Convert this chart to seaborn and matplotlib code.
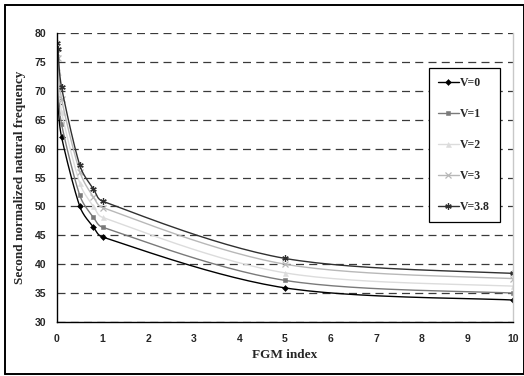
import numpy as np
import pandas as pd
import seaborn as sns
import matplotlib
matplotlib.use("Agg")
import matplotlib.pyplot as plt
from matplotlib.lines import Line2D

# FGM index values and second normalized natural frequency for each V
fgm_index = [0, 0.02, 0.1, 0.5, 0.8, 1, 5, 10]
freq_v0 = [68.6, 67.8, 62.0, 50.0, 46.4, 44.7, 35.9, 33.8]
freq_v1 = [71.3, 70.5, 64.2, 51.9, 48.1, 46.4, 37.2, 35.0]
freq_v2 = [74.2, 73.2, 66.4, 54.0, 50.0, 48.1, 38.5, 36.2]
freq_v3 = [76.5, 75.6, 68.6, 56.0, 51.6, 49.8, 40.0, 37.5]
freq_v38 = [78.3, 77.2, 70.6, 57.1, 53.0, 50.9, 41.0, 38.4]
series_labels = ["V=0", "V=1", "V=2", "V=3", "V=3.8"]
x_ticks = list(range(0, 11))
y_ticks = list(range(30, 81, 5))

series_values = [freq_v0, freq_v1, freq_v2, freq_v3, freq_v38]
series_colors = ["#000000", "#7a7a7a", "#dcdcdc", "#b8b8b8", "#303030"]
series_markers = ["D", "s", "^", "x", (6, 2, 0)]
marker_sizes = [3.0, 3.2, 3.6, 4.0, 4.6]
marker_edges = [0.4, 0.4, 0.4, 0.9, 0.9]

sns.set_style("white")
plt.rcParams["font.family"] = ["Liberation Sans", "DejaVu Sans"]
plt.rcParams["font.weight"] = "bold"

W, H = 524, 376
fig = plt.figure(figsize=(W / 100, H / 100), dpi=100)
ax = fig.add_axes([57 / W, 1 - 322 / H, (513 - 57) / W, (322 - 33) / H])


def smooth_curve(xs, ys, sx=45.6, sy=5.78, n=30):
    """Bezier smoothing (Catmull-Rom tangents, clamped per segment)."""
    px = np.asarray(xs, float) * sx
    py = np.asarray(ys, float) * sy
    pts = np.column_stack([px, py])
    ext = np.vstack([pts[0], pts, pts[-1]])
    tang = [(ext[i + 2] - ext[i]) / 6.0 for i in range(len(pts))]
    out = []
    for i in range(len(pts) - 1):
        p1, p2 = pts[i], pts[i + 1]
        seg_len = np.hypot(*(p2 - p1))
        lim = seg_len / 2.5
        t1, t2 = tang[i], tang[i + 1]
        n1, n2 = np.hypot(*t1), np.hypot(*t2)
        if n1 > lim:
            t1 = t1 * lim / n1
        if n2 > lim:
            t2 = t2 * lim / n2
        c1 = p1 + t1
        c2 = p2 - t2
        t = np.linspace(0, 1, n)[:, None]
        seg = ((1 - t) ** 3) * p1 + 3 * ((1 - t) ** 2) * t * c1 \
            + 3 * (1 - t) * t ** 2 * c2 + t ** 3 * p2
        out.append(seg if i == 0 else seg[1:])
    out = np.vstack(out)
    return out[:, 0] / sx, out[:, 1] / sy


handles = []
for label, vals, col, mk, ms, mew in zip(series_labels, series_values,
                                         series_colors, series_markers,
                                         marker_sizes, marker_edges):
    cx, cy = smooth_curve(fgm_index, vals)
    sns.lineplot(x=cx, y=cy, sort=False, estimator=None, color=col,
                 lw=1.0, ax=ax, legend=False)
    df = pd.DataFrame({"fgm": fgm_index, "freq": vals})
    sns.lineplot(data=df, x="fgm", y="freq", color=col, marker=mk,
                 markersize=ms, markeredgewidth=mew, markeredgecolor=col,
                 linestyle="none", ax=ax, legend=False)
    handles.append(Line2D([], [], color=col, lw=1.0, marker=mk,
                          markersize=ms, markeredgewidth=mew,
                          markeredgecolor=col, label=label))

ax.set_xlim(0, 10)
ax.set_ylim(30, 80)
ax.set_xticks(x_ticks)
ax.set_yticks(y_ticks)
ax.set_xticklabels([str(v) for v in x_ticks], fontweight="bold", fontsize=7.5)
ax.set_yticklabels([str(v) for v in y_ticks], fontweight="bold", fontsize=7.5)
ax.yaxis.grid(True, linestyle=(0, (6.4, 4.2)), color="#3a3a3a", lw=0.9)
ax.xaxis.grid(False)
ax.set_axisbelow(True)

for side in ("left", "bottom"):
    ax.spines[side].set_color("black")
    ax.spines[side].set_linewidth(1.0)
ax.spines["top"].set_visible(False)
ax.spines["right"].set_color("#c8c8c8")
ax.spines["right"].set_linewidth(1.0)

ax.tick_params(axis="both", direction="out", length=3.5, width=0.9,
               color="black")
ax.tick_params(axis="x", pad=5)
ax.tick_params(axis="y", pad=4)
ax.set_xlabel("")
ax.set_ylabel("")

serif = ["Liberation Serif", "DejaVu Serif"]
fig.text(20 / W, 1 - 177 / H, "Second normalized natural frequency",
         rotation=90, ha="center", va="center", fontsize=9.5,
         fontweight="bold", family=serif)
fig.text(285 / W, 1 - 355 / H, "FGM index", ha="center", va="center",
         fontsize=9.5, fontweight="bold", family=serif)

leg = ax.legend(handles=handles, loc="upper left",
                bbox_to_anchor=(429 / W, 1 - 68 / H),
                bbox_transform=fig.transFigure,
                prop={"family": serif, "weight": "bold", "size": 8.5},
                frameon=True, fancybox=False, shadow=False, framealpha=1,
                labelspacing=1.6, handlelength=1.7, handletextpad=0.15,
                borderpad=0.8, borderaxespad=0)
leg.get_frame().set_edgecolor("black")
leg.get_frame().set_linewidth(0.9)

# Border framing the whole chart
fx = lambda px: px / W
fy = lambda py: 1 - py / H
border = [((5, 4.5), (523.5, 4.5)), ((5, 4.5), (5, 373.5)),
          ((5, 373.5), (523.5, 373.5)), ((523.5, 4.5), (523.5, 373.5))]
for (x0, y0), (x1, y1) in border:
    fig.add_artist(Line2D([fx(x0), fx(x1)], [fy(y0), fy(y1)],
                          color="black", lw=1.4, transform=fig.transFigure))

fig.savefig("out.png", dpi=100)
